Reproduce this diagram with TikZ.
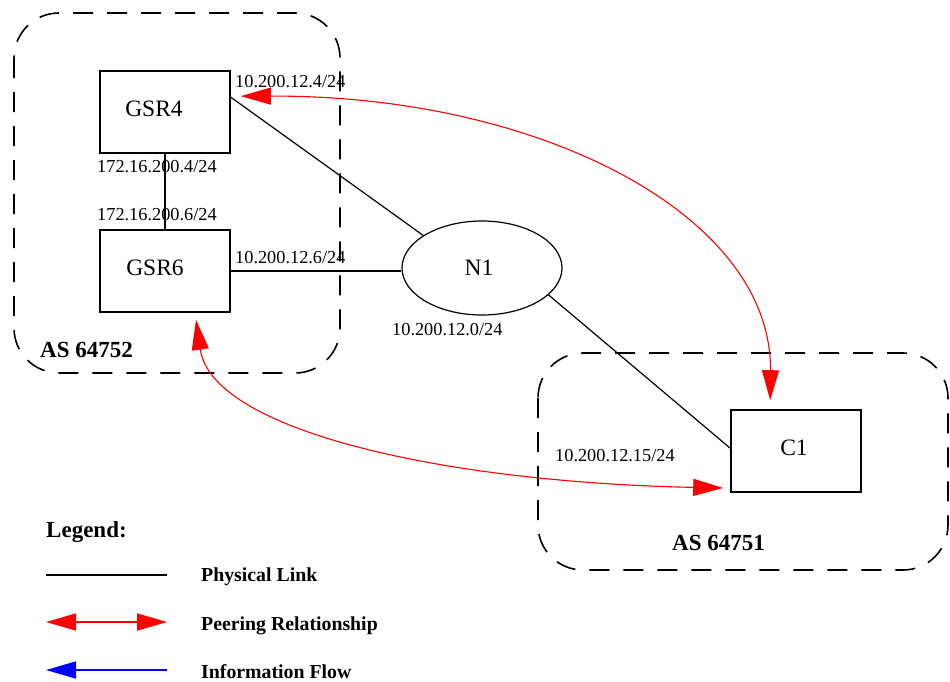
\documentclass[tikz,border=0pt]{standalone}
\usepackage{fontspec}
\setmainfont{Liberation Serif}
\usetikzlibrary{shapes.geometric,arrows.meta,calc}
\begin{document}
\begin{tikzpicture}[x=1pt,y=-1pt,
  box/.style={draw,line width=1.6pt,rectangle,minimum width=130pt,minimum height=82pt,inner sep=0pt},
  big/.style={font=\fontsize{23.5}{26}\selectfont,inner sep=0pt,anchor=base},
  small/.style={font=\fontsize{18.3}{20}\selectfont,inner sep=0pt,anchor=base west},
  asl/.style={font=\fontsize{23}{26}\selectfont\bfseries,inner sep=0pt,anchor=base west},
  leg/.style={font=\fontsize{19.8}{22}\selectfont\bfseries,inner sep=0pt,anchor=base west},
  aszone/.style={line width=1.6pt,dash pattern=on 20pt off 14pt,rounded corners=45pt},
  phys/.style={line width=1.2pt},
  peer/.style={red,line width=1.1pt,{Triangle[length=30pt,width=17pt]}-{Triangle[length=30pt,width=17pt]}},
]
\useasboundingbox (0,0) rectangle (950,681);
% AS zones
\draw[aszone] (14,13) rectangle (340,373);
\draw[aszone] (538,353) rectangle (948,570);
% nodes
\node[box] (gsr4) at (165,112) {};
\node[box] (gsr6) at (165,271) {};
\node[box] (c1) at (796,451) {};
\node[draw,ellipse,line width=1.2pt,minimum width=160pt,minimum height=94pt,inner sep=0pt] (n1) at (482,268) {};
\node[big] (t4) at (154,116) {GSR4};
\node[big] (t6) at (155,275) {GSR6};
\node[big] (tn) at (479,275) {N1};
\node[big] (tc) at (794,455) {C1};
% labels
\node[small] (l1) at (235,87) {10.200.12.4/24};
\node[small] (l2) at (97,172) {172.16.200.4/24};
\node[small] (l3) at (97,220) {172.16.200.6/24};
\node[small] (l4) at (235,263) {10.200.12.6/24};
\node[small] (l5) at (392,335) {10.200.12.0/24};
\node[small] (l6) at (555,461.5) {10.200.12.15/24};
\node[asl] (as1) at (40,357) {AS 64752};
\node[asl] (as2) at (672,550.5) {AS 64751};
% physical links
\draw[line width=1.6pt] (gsr4) -- (gsr6);
\draw[line width=1.6pt] (gsr6.east) -- (gsr6.east -| n1.west);
\draw[phys] ($(gsr4.north east)+(0,27)$) -- (n1.151);
\draw[phys] (n1.-22) -- ($(c1.north west)+(0,39)$);
% peering
\coordinate (p4) at ($(gsr4.north east)+(10,26)$);
\coordinate (pc) at ($(c1.north west)+(40,-9)$);
\coordinate (p6) at ($(gsr6.south)+(31,7)$);
\coordinate (pc2) at ($(c1.west)+(-7,37)$);
\draw[peer] (p4) .. controls (540,95) and (772,215) .. (pc);
\draw[peer] (p6) .. controls (212,430) and (440,482) .. (pc2);
% legend
\node[asl] (lg) at (46,537) {Legend:};
\coordinate (a1) at (46,575); \coordinate (b1) at (167,575);
\coordinate (a2) at (46,622); \coordinate (b2) at (167,622);
\coordinate (a3) at (46,670); \coordinate (b3) at (167,670);
\draw[line width=1.6pt] (a1) -- (b1);
\draw[red,line width=1.6pt,{Triangle[length=30pt,width=17pt]}-{Triangle[length=30pt,width=17pt]}] (a2) -- (b2);
\draw[blue,line width=1.6pt,{Triangle[length=30pt,width=17pt]}-] (a3) -- (b3);
\node[leg] (k1) at (201,581.5) {Physical Link};
\node[leg] (k2) at (201,630.5) {Peering Relationship};
\node[leg] (k3) at (201,678) {Information Flow};
\end{tikzpicture}
\end{document}
